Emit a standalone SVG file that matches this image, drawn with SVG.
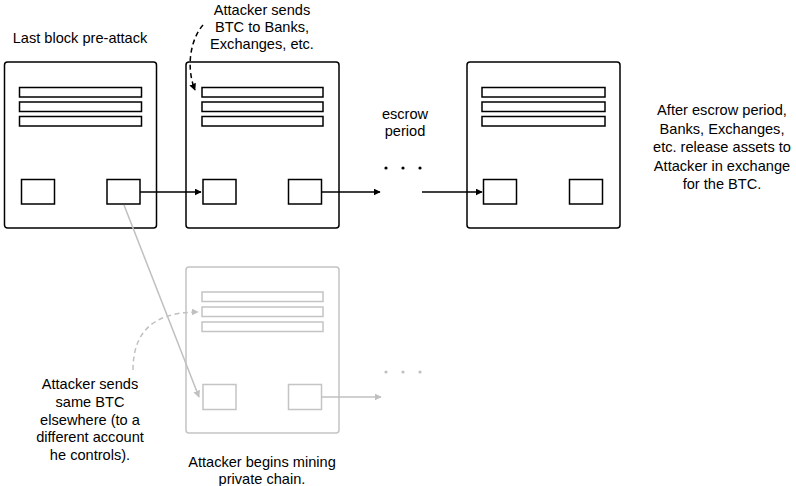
<svg xmlns="http://www.w3.org/2000/svg" width="796" height="486" viewBox="0 0 796 486">
<style>
text{font-family:"Liberation Sans",Arial,sans-serif;font-size:14.6px;fill:#000;text-anchor:middle}
.blk{fill:#fff;stroke:#000;stroke-width:1.5}
.gblk{fill:#fff;stroke:#c4c4c4;stroke-width:1.5}
.ln{fill:none;stroke:#000;stroke-width:1.5}
.gln{fill:none;stroke:#c0c0c0;stroke-width:1.5}
</style>
<defs>
<marker id="ah" viewBox="0 0 10 10" refX="9" refY="5" markerWidth="7" markerHeight="7" markerUnits="userSpaceOnUse" orient="auto"><path d="M0,0L10,5L0,10z" fill="#000"/></marker>
<marker id="gah" viewBox="0 0 10 10" refX="9" refY="5" markerWidth="7" markerHeight="7" markerUnits="userSpaceOnUse" orient="auto"><path d="M0,0L10,5L0,10z" fill="#c0c0c0"/></marker>
</defs>
<rect width="796" height="486" fill="#fff"/>
<g id="block1">
<rect class="blk" x="4.5" y="62" width="152" height="166" rx="3"/>
<rect class="blk" x="19.5" y="87.5" width="122" height="9.5"/>
<rect class="blk" x="19.5" y="102" width="122" height="9.5"/>
<rect class="blk" x="19.5" y="116.5" width="122" height="9.5"/>
<rect class="blk" x="21.5" y="179.5" width="33" height="24.5"/>
<rect class="blk" x="107" y="179.5" width="33" height="24.5"/>
</g>
<g id="block2">
<rect class="blk" x="186" y="62" width="153" height="166" rx="3"/>
<rect class="blk" x="202" y="87.5" width="121" height="9.5"/>
<rect class="blk" x="202" y="102" width="121" height="9.5"/>
<rect class="blk" x="202" y="116.5" width="121" height="9.5"/>
<rect class="blk" x="203" y="179.5" width="33" height="24.5"/>
<rect class="blk" x="288.5" y="179.5" width="33" height="24.5"/>
</g>
<g id="block3">
<rect class="blk" x="467" y="62" width="153" height="166" rx="3"/>
<rect class="blk" x="482" y="87.5" width="123" height="9.5"/>
<rect class="blk" x="482" y="102" width="123" height="9.5"/>
<rect class="blk" x="482" y="116.5" width="123" height="9.5"/>
<rect class="blk" x="483.5" y="179.5" width="33" height="24.5"/>
<rect class="blk" x="569.5" y="179.5" width="33" height="24.5"/>
</g>
<g id="block4">
<rect class="gblk" x="186" y="267" width="153" height="166" rx="3"/>
<rect class="gblk" x="202" y="292" width="121" height="9.5"/>
<rect class="gblk" x="202" y="307" width="121" height="9.5"/>
<rect class="gblk" x="202" y="322" width="121" height="9.5"/>
<rect class="gblk" x="203" y="384.5" width="33" height="25"/>
<rect class="gblk" x="288.5" y="384.5" width="33" height="25"/>
</g>
<g id="connectors">
<line class="ln" x1="140" y1="192" x2="201" y2="192" marker-end="url(#ah)"/>
<line class="ln" x1="321.5" y1="192" x2="380" y2="192" marker-end="url(#ah)"/>
<line class="ln" x1="422" y1="192" x2="482" y2="192" marker-end="url(#ah)"/>
<path class="ln" d="M203,25 C190,40 186,68 195,90" stroke-dasharray="5,3.5" marker-end="url(#ah)"/>
<line class="gln" x1="124" y1="205" x2="199" y2="397" marker-end="url(#gah)"/>
<line class="gln" x1="321.5" y1="397" x2="381" y2="397" marker-end="url(#gah)"/>
<path class="gln" d="M133,370 C133,335 150,312 198,312" stroke-dasharray="5,3.5" marker-end="url(#gah)"/>
<g fill="#000"><circle cx="386" cy="168" r="1.6"/><circle cx="403" cy="168" r="1.6"/><circle cx="420" cy="168" r="1.6"/></g>
<g fill="#c0c0c0"><circle cx="386" cy="372" r="1.6"/><circle cx="403" cy="372" r="1.6"/><circle cx="420" cy="372" r="1.6"/></g>
</g>
<g id="labels">
<text x="80" y="43">Last block pre-attack</text>
<text x="262" y="15">Attacker sends</text>
<text x="262" y="32">BTC to Banks,</text>
<text x="262" y="49">Exchanges, etc.</text>
<text x="405" y="119">escrow</text>
<text x="405" y="136">period</text>
<text x="722" y="115">After escrow period,</text>
<text x="722" y="134">Banks, Exchanges,</text>
<text x="722" y="152">etc. release assets to</text>
<text x="722" y="171">Attacker in exchange</text>
<text x="722" y="189">for the BTC.</text>
<text x="90" y="389">Attacker sends</text>
<text x="90" y="407">same BTC</text>
<text x="90" y="425">elsewhere (to a</text>
<text x="90" y="442">different account</text>
<text x="90" y="460">he controls).</text>
<text x="262" y="467">Attacker begins mining</text>
<text x="262" y="484">private chain.</text>
</g>
</svg>
